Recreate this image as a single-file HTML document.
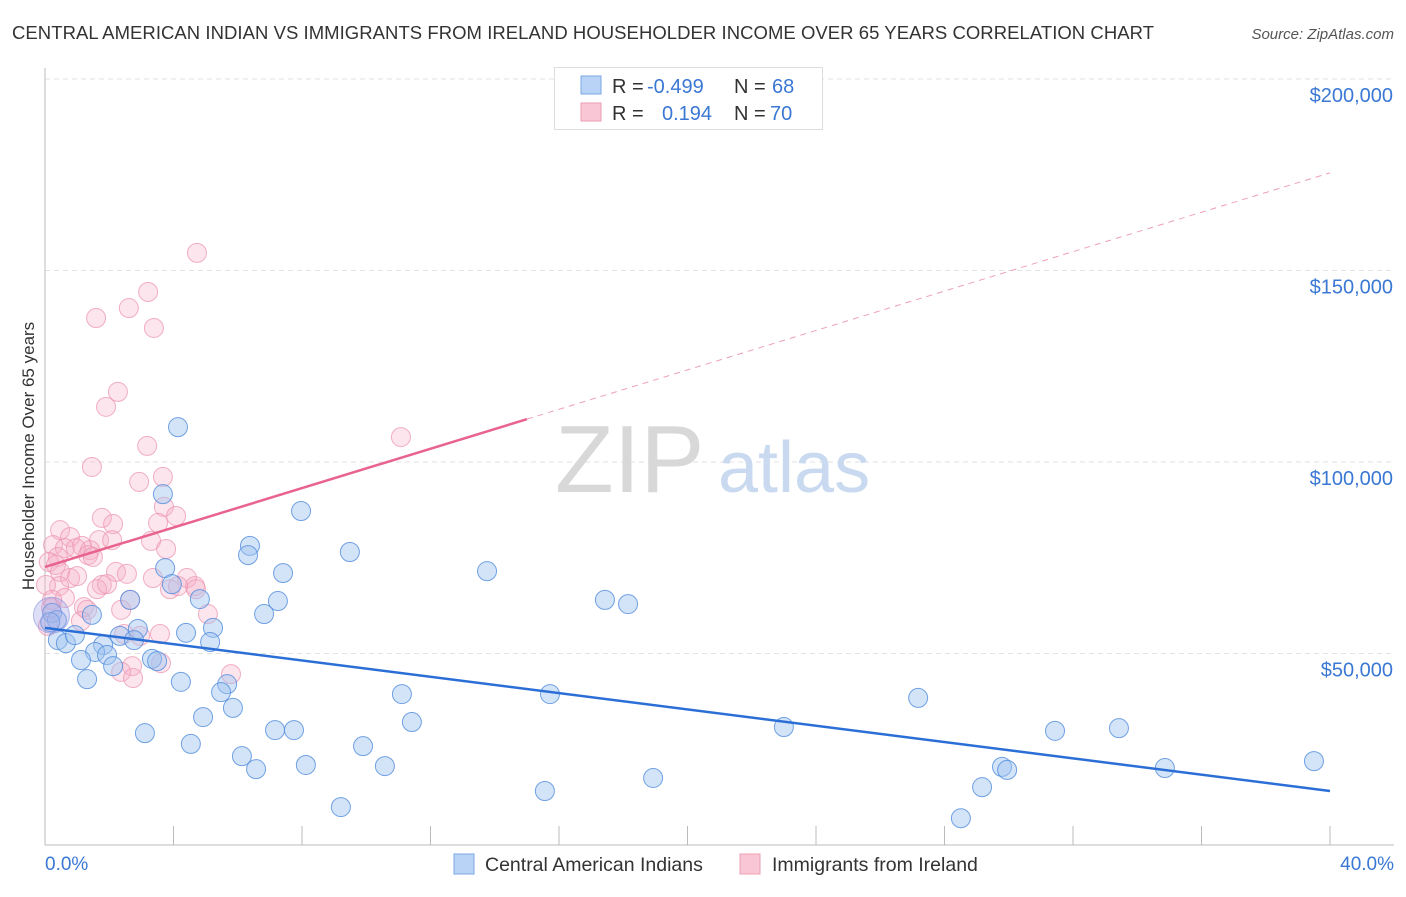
<!DOCTYPE html>
<html><head><meta charset="utf-8"><style>
body{margin:0;background:#fff;font-family:"Liberation Sans",sans-serif;}
svg text{font-family:"Liberation Sans",sans-serif;}
</style></head><body>
<svg id="chart" width="1406" height="892" viewBox="0 0 1406 892">
<text x="12" y="39" font-size="18.5" fill="#333" textLength="1142">CENTRAL AMERICAN INDIAN VS IMMIGRANTS FROM IRELAND HOUSEHOLDER INCOME OVER 65 YEARS CORRELATION CHART</text>
<text x="1394" y="39" font-size="15" fill="#555" font-style="italic" text-anchor="end">Source: ZipAtlas.com</text>
<g id="grid"></g>
<g id="axes"></g>
<text x="555" y="492" font-size="96" fill="#d8d8d8" font-family="Liberation Serif">ZIP</text>
<text x="718" y="492" font-size="72" fill="#c9daf0">atlas</text>
<g id="points"></g>
<g id="lines"></g>
<text transform="translate(34,456) rotate(-90)" font-size="17" fill="#333" text-anchor="middle">Householder Income Over 65 years</text>
<g>
<rect x="554.5" y="67.5" width="268" height="62" fill="#fff" stroke="#ddd"/>
<rect x="581" y="76" width="20" height="18" fill="#b8d3f5" stroke="#7aa8e4"/>
<rect x="581" y="103" width="20" height="18" fill="#f9c6d5" stroke="#ee9db5"/>
<text x="612" y="93" font-size="20" fill="#333">R = <tspan x="647" fill="#3a78d4">-0.499</tspan><tspan x="734">N = </tspan><tspan x="772" fill="#3a78d4">68</tspan></text>
<text x="612" y="120" font-size="20" fill="#333">R = <tspan x="662" fill="#3a78d4">0.194</tspan><tspan x="734">N = </tspan><tspan x="770" fill="#3a78d4">70</tspan></text>
</g>
<g>
<rect x="454" y="854" width="20" height="20" fill="#b8d3f5" stroke="#7aa8e4"/>
<text x="485" y="871" font-size="19.5" fill="#333">Central American Indians</text>
<rect x="740" y="854" width="20" height="20" fill="#f9c6d5" stroke="#ee9db5"/>
<text x="772" y="871" font-size="19.5" fill="#333">Immigrants from Ireland</text>
</g>
</svg>
<script>
const xTickLabels=["0.0%","40.0%"];
const yTicks=[50000,100000,150000,200000];
const yTickLabels=["$50,000","$100,000","$150,000","$200,000"];
const blueX=[4.14,3.67,7.97,6.38,9.49,6.32,3.74,7.41,13.76,3.95,4.82,7.25,2.65,17.43,18.15,6.82,1.46,0.22,0.37,0.16,2.89,5.23,4.39,2.33,0.40,0.65,0.93,1.81,2.77,5.14,1.56,1.93,3.33,3.49,1.12,2.12,1.31,4.23,5.67,5.48,11.11,15.72,27.18,5.85,4.92,11.42,23.00,7.16,7.75,3.11,31.44,33.43,4.54,9.90,6.13,8.12,10.58,6.57,29.79,29.95,34.86,39.50,18.93,29.17,15.56,9.21,28.51];
const blueY=[109.1,91.6,87.2,78.1,76.5,75.7,72.3,71.0,71.5,68.1,64.2,63.7,64.0,64.0,62.9,60.3,60.1,60.6,58.7,58.2,56.4,56.7,55.4,54.6,53.5,52.7,54.8,52.2,53.5,53.0,50.4,49.6,48.6,48.0,48.3,46.7,43.3,42.6,42.0,39.9,39.4,39.4,38.4,35.8,33.4,32.1,30.8,30.0,30.0,29.2,29.8,30.5,26.4,25.8,23.2,20.9,20.6,19.8,20.4,19.6,20.1,21.9,17.5,15.1,14.1,9.9,7.0];
const pinkX=[4.73,3.21,1.59,2.61,3.39,2.27,1.90,11.08,3.18,1.46,3.67,2.93,3.70,4.08,1.77,2.12,3.52,0.47,0.78,0.25,1.68,2.09,3.30,1.15,1.40,0.62,0.96,3.77,1.34,1.49,0.40,0.12,0.34,0.47,0.78,1.00,2.21,2.55,3.36,4.42,4.67,1.77,1.62,1.93,3.89,0.44,0.03,0.62,0.22,2.65,1.21,1.31,5.07,2.37,1.12,2.46,3.58,2.71,3.61,2.37,5.79,2.74,2.96,0.19,0.09,4.70,4.14];
const pinkY=[154.6,144.4,137.6,140.2,135.0,118.3,114.4,106.5,104.2,98.7,96.1,94.8,88.3,85.9,85.4,83.8,84.1,82.2,80.4,78.3,79.6,79.6,79.4,78.1,77.0,77.5,77.5,77.3,75.7,75.2,75.2,73.9,73.1,71.3,69.7,70.2,71.3,70.8,69.7,69.7,67.6,67.9,66.8,68.1,66.8,67.6,67.9,64.5,64.0,64.0,62.1,61.4,60.3,61.4,58.5,55.1,55.1,46.7,47.5,45.2,44.6,43.6,54.6,61.9,57.2,66.8,67.6];
const blueTrend=[56.7,14.1];
const pinkTrend=[72.6,175.5];
const pinkSolidEnd=15.0;

const NS="http://www.w3.org/2000/svg";
const X0=45,X1=1330,Y0=845;
function sx(v){return X0+(v/40)*(X1-X0);}
function yk(k){return Y0-k*3.83;}
function mk(tag,attrs,parent){const e=document.createElementNS(NS,tag);for(const k in attrs)e.setAttribute(k,attrs[k]);parent.appendChild(e);return e;}
const gridG=document.getElementById('grid'),axesG=document.getElementById('axes');
yTicks.forEach((t,i)=>{
 const y=yk(t/1000);
 const l=mk('line',{x1:X0,x2:1394,y1:y,y2:y,stroke:'#e2e2e2','stroke-dasharray':'5,4'},gridG);
 
 
 const tx=mk('text',{x:1393,y:y+23,'font-size':20,fill:'#3a78d4','text-anchor':'end'},axesG);
 tx.textContent=yTickLabels[i];
 
 
});
mk('line',{x1:X0,x2:X0,y1:68,y2:Y0,stroke:'#bbb'},axesG);
mk('line',{x1:X0,x2:1394,y1:Y0,y2:Y0,stroke:'#bbb'},axesG);
for(let i=0;i<=10;i++){const x=sx(i*4);mk('line',{x1:x,x2:x,y1:826,y2:Y0,stroke:'#bbb'},axesG);}
const xl0=mk('text',{x:45,y:870,'font-size':19,fill:'#3a78d4'},axesG);xl0.textContent=xTickLabels[0];


const xl1=mk('text',{x:1394,y:870,'font-size':19,fill:'#3a78d4','text-anchor':'end'},axesG);xl1.textContent=xTickLabels[1];


const pts=document.getElementById('points');
pinkX.forEach((v,i)=>{const c=mk('circle',{cx:sx(v),cy:yk(pinkY[i]),r:9.5,fill:'rgba(245,175,198,0.32)',stroke:'rgba(236,150,176,0.75)','stroke-width':1},pts);
 
 });
blueX.forEach((v,i)=>{const c=mk('circle',{cx:sx(v),cy:yk(blueY[i]),r:9.5,fill:'rgba(160,196,240,0.45)',stroke:'rgba(80,140,220,0.8)','stroke-width':1},pts);
 
 });
const big=mk('circle',{cx:sx(0.2),cy:yk(60),r:18,fill:'rgba(160,160,230,0.35)',stroke:'rgba(120,130,220,0.5)'},pts);


const ln=document.getElementById('lines');
const bl=mk('line',{x1:sx(0),y1:yk(blueTrend[0]),x2:sx(40),y2:yk(blueTrend[1]),stroke:'#2b6fd6','stroke-width':2.5},ln);


function pAt(x){return pinkTrend[0]+(pinkTrend[1]-pinkTrend[0])*x/40;}
const pl=mk('line',{x1:sx(0),y1:yk(pAt(0)),x2:sx(pinkSolidEnd),y2:yk(pAt(pinkSolidEnd)),stroke:'#e8638e','stroke-width':2.5},ln);


const pd=mk('line',{x1:sx(pinkSolidEnd),y1:yk(pAt(pinkSolidEnd)),x2:sx(40),y2:yk(pAt(40)),stroke:'#eea0b8','stroke-width':1,'stroke-dasharray':'6,5'},ln);


</script>
</body></html>
